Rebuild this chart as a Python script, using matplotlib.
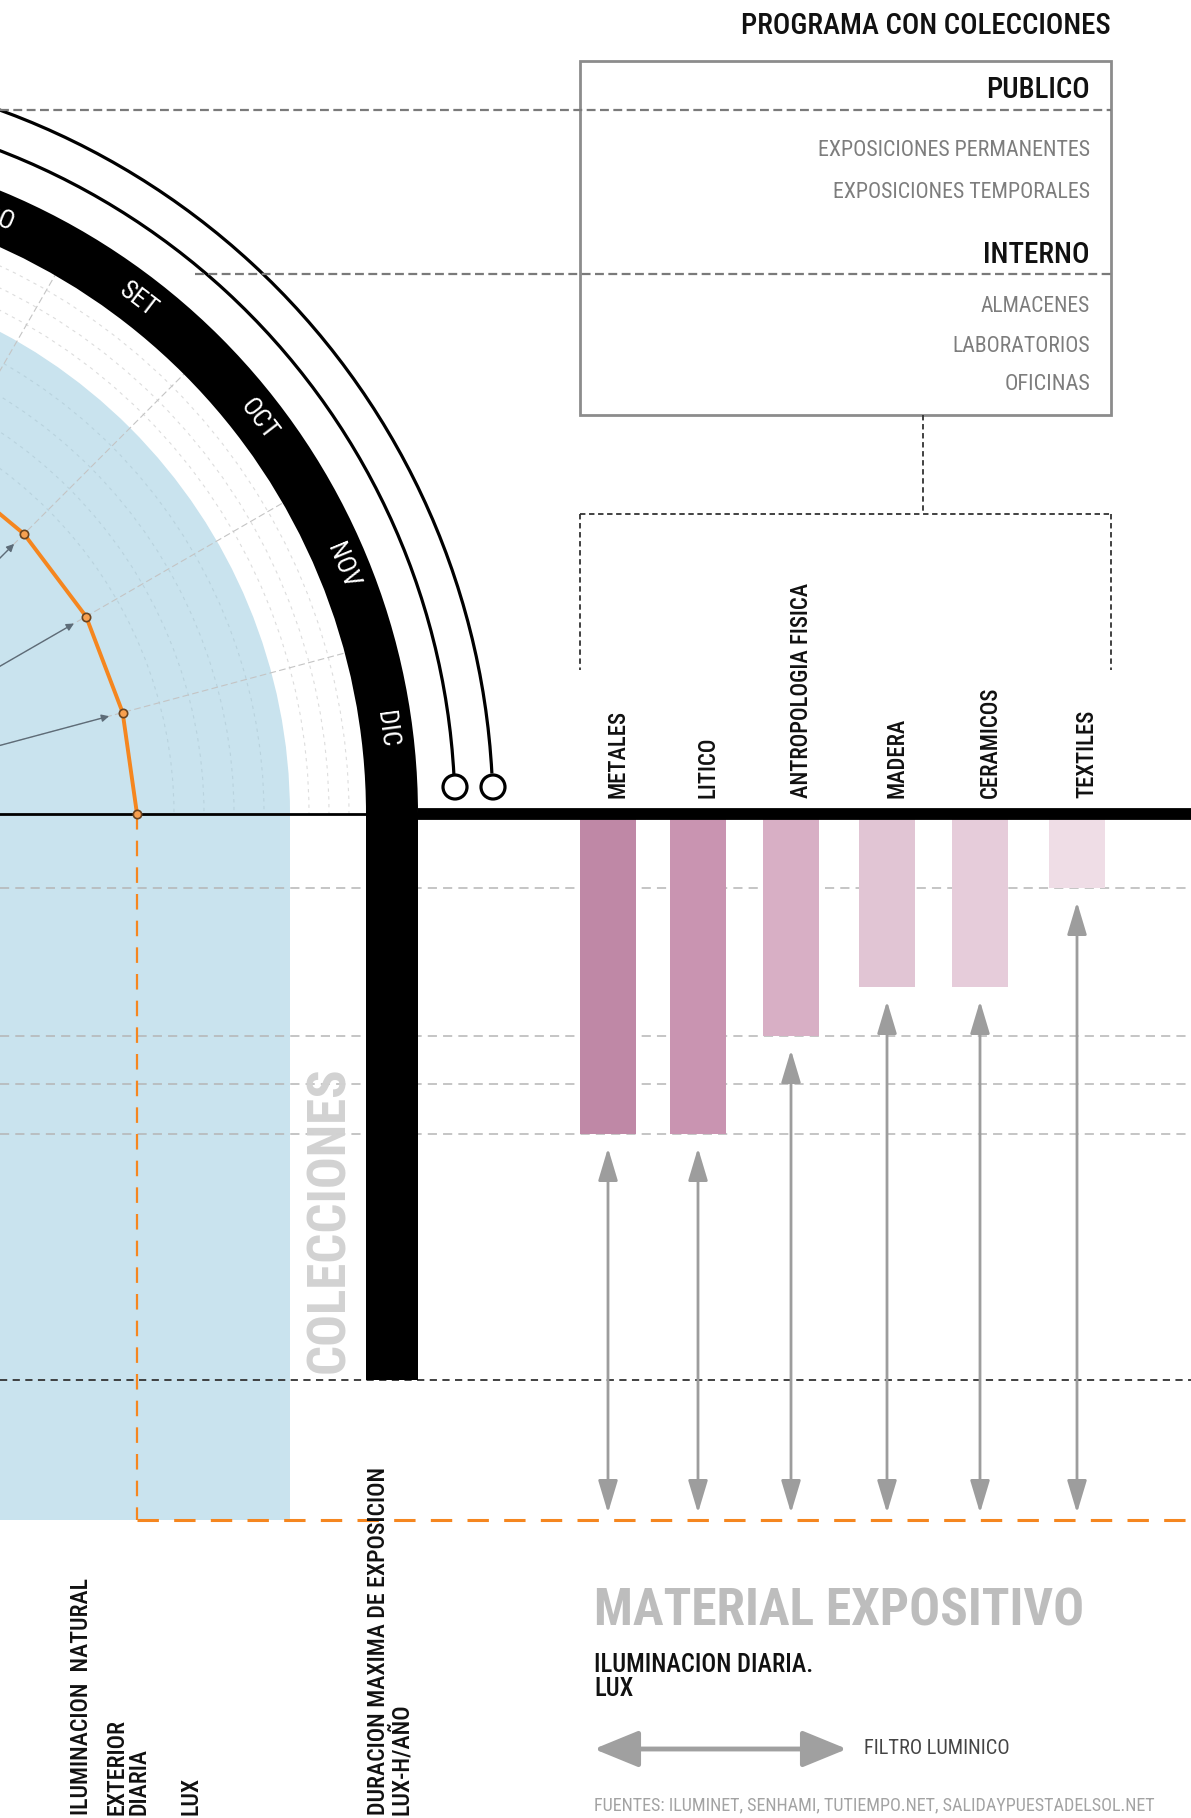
import numpy as np
import matplotlib
matplotlib.use('Agg')
import matplotlib.pyplot as plt
from matplotlib import font_manager
from matplotlib.patches import Rectangle, Circle, Wedge, Arc

# fuente condensada (tipo DIN) si esta instalada
nombres = {f.name for f in font_manager.fontManager.ttflist}
FUENTE = 'DejaVu Sans'
for cand in ['Roboto Condensed', 'Liberation Sans Narrow']:
    if cand in nombres:
        FUENTE = cand
        break
plt.rcParams['font.family'] = [FUENTE, 'DejaVu Sans']
if FUENTE == 'DejaVu Sans':
    plt.rcParams['font.stretch'] = 'condensed'

# ---------------- datos ----------------
meses = ['ENE', 'FEB', 'MAR', 'ABR', 'MAY', 'JUN', 'JUL', 'AGO', 'SET', 'OCT', 'NOV', 'DIC']

# iluminacion natural exterior diaria (radio en unidades del grafico), solo la parte visible
ilum_angulos = [0, 15, 30, 45, 60]
ilum_exterior = [393, 392, 395, 396, 400]

materiales = ['METALES', 'LITICO', 'ANTROPOLOGIA FISICA', 'MADERA', 'CERAMICOS', 'TEXTILES']
ilum_material = [320, 320, 222, 173, 173, 74]        # bajo la linea base
colores_mat = ['#bf88a6', '#c994b1', '#d8afc5', '#e1c5d4', '#e6ccda', '#efdde6']
niveles = [74, 222, 270, 320]
duracion_max = 566
nivel_exterior = 706

publico = ['EXPOSICIONES PERMANENTES', 'EXPOSICIONES TEMPORALES']
interno = ['ALMACENES', 'LABORATORIOS', 'OFICINAS']

# ---------------- geometria ----------------
W, H = 1191, 1818
CX, CY = -256, 814          # centro del semicirculo (fuera del lienzo)
R_AZUL = 546
R_BANDA_IN, R_BANDA_OUT = 622, 674
R_TEXTO = 648
R_ARCOS = [711, 749]
x_barras = [608, 698, 791, 887, 980, 1077]
ANCHO = 56

fig = plt.figure(figsize=(W / 100, H / 100), dpi=100)
ax = fig.add_axes([0, 0, 1, 1])
ax.set_xlim(0, W)
ax.set_ylim(H, 0)
ax.axis('off')

def polar(r, ang):
    a = np.radians(ang)
    return CX + r * np.cos(a), CY - r * np.sin(a)

# zona azul (iluminacion exterior)
azul = '#c9e3ee'
ax.add_patch(Wedge((CX, CY), R_AZUL, -180, 0, color=azul, lw=0, zorder=1))
ax.add_patch(Rectangle((0, CY), CX + R_AZUL, nivel_exterior, color=azul, lw=0, zorder=1))

# circulos guia
for r in [430, 460, 490, 520]:
    ax.add_patch(Arc((CX, CY), 2 * r, 2 * r, theta1=-180, theta2=0, color='#b9d3de',
                     lw=0.8, ls=(0, (3, 4)), zorder=2))
for r in [565, 585, 605]:
    ax.add_patch(Arc((CX, CY), 2 * r, 2 * r, theta1=-180, theta2=0, color='#dddddd',
                     lw=0.8, ls=(0, (3, 4)), zorder=2))
# radios
for ang in range(0, 181, 15):
    x1, y1 = polar(R_BANDA_IN, ang)
    ax.plot([CX, x1], [CY, y1], color='#c4c4c4', lw=0.8, ls=(0, (6, 3)), zorder=2)

# lineas de nivel
for v in niveles:
    ax.plot([0, W], [CY + v, CY + v], color='#b5b5b5', lw=1.1, ls=(0, (6, 4)), zorder=2)
ax.plot([0, W], [CY + duracion_max, CY + duracion_max], color='#333333', lw=1.3,
        ls=(0, (4, 3)), zorder=2)

# banda de meses y barra de duracion
ax.add_patch(Wedge((CX, CY), R_BANDA_OUT, -180, 0, width=R_BANDA_OUT - R_BANDA_IN,
                   color='black', lw=0, zorder=4))
ax.add_patch(Rectangle((CX + R_BANDA_IN, CY), R_BANDA_OUT - R_BANDA_IN, duracion_max,
                       color='black', lw=0, zorder=4))
for i, m in enumerate(meses):
    ang = 180 - 7.5 - 15 * i
    x, y = polar(R_TEXTO, ang)
    if x < -60:          # fuera del recorte
        continue
    ax.text(x, y, m, color='white', fontsize=19, rotation=ang - 90, rotation_mode='anchor',
            ha='center', va='center', zorder=8)

# arcos finos con remate circular
for r in R_ARCOS:
    ax.add_patch(Arc((CX, CY), 2 * r, 2 * r, theta1=-180, theta2=-3.1, color='black',
                     lw=2.3, zorder=4))
    ax.add_patch(Circle((CX + r, CY - 27), 12, fc='white', ec='black', lw=2.3, zorder=5))

# linea base
ax.plot([0, CX + R_BANDA_IN], [CY, CY], color='black', lw=2, zorder=5)
ax.plot([CX + R_BANDA_OUT, W], [CY, CY], color='black', lw=8.5, zorder=5, solid_capstyle='butt')

# lineas naranjas
naranja = '#f5861f'
x0 = CX + ilum_exterior[0]
ax.plot([x0, x0], [CY, CY + nivel_exterior], color=naranja, lw=1.6, ls=(0, (7, 5)), zorder=3)
ax.plot([x0, W], [CY + nivel_exterior, CY + nivel_exterior], color=naranja, lw=2.2,
        ls=(0, (7, 5)), zorder=3)

xs, ys = polar(np.array(ilum_exterior), np.array(ilum_angulos))
for r, ang in zip(ilum_exterior[1:], ilum_angulos[1:]):
    ax.annotate('', xy=polar(r - 14, ang), xytext=(CX, CY),
                arrowprops=dict(arrowstyle='-|>', color='#5d6c78', lw=1,
                                mutation_scale=11, shrinkA=0, shrinkB=0), zorder=5)
ax.plot(xs, ys, color=naranja, lw=2.8, zorder=6)
ax.plot(xs, ys, 'o', ms=6, mfc='#f7a050', mec='#6b4420', mew=1.2, zorder=7)

# barras de materiales
ax.bar(x_barras, ilum_material, width=ANCHO, bottom=CY, color=colores_mat, lw=0, zorder=3)
for x, v in zip(x_barras, ilum_material):
    ax.annotate('', xy=(x, CY + nivel_exterior - 7), xytext=(x, CY + v + 14),
                arrowprops=dict(arrowstyle='<|-|>,head_length=1.0,head_width=0.3',
                                color='#9d9d9d', lw=2, mutation_scale=20,
                                shrinkA=0, shrinkB=0), zorder=4)

etq_mat = []
for x, m in zip(x_barras, materiales):
    etq_mat.append(ax.text(x + 10, 798, m, rotation=90, ha='center', va='bottom',
                           color='#111111', fontsize=14, fontweight='medium', zorder=8))

# cuadro de programa
ax.add_patch(Rectangle((580, 61), 531, 354, fill=False, ec='#8c8c8c', lw=2, zorder=5))
ax.plot([0, 1111], [110, 110], color='#7a7a7a', lw=1.6, ls=(0, (4, 2)), zorder=5)
ax.plot([195, 1111], [274, 274], color='#7a7a7a', lw=1.6, ls=(0, (4, 2)), zorder=5)
for xa, ya, xb, yb in [(923, 415, 923, 514), (580, 514, 1111, 514),
                       (580, 514, 580, 670), (1111, 514, 1111, 670)]:
    ax.plot([xa, xb], [ya, yb], color='#333333', lw=1.3, ls=(0, (3, 2)), zorder=5)

ajustes = []
t = ax.text(1111, 26, 'PROGRAMA CON COLECCIONES', ha='right', va='center', color='#111111',
            fontsize=24, fontweight='medium')
ajustes.append((t, 371, False))
t = ax.text(1090, 90, 'PUBLICO', ha='right', va='center', color='#111111', fontsize=24,
            fontweight='medium')
ajustes.append((t, 104, False))
t = ax.text(1090, 255, 'INTERNO', ha='right', va='center', color='#111111', fontsize=24,
            fontweight='medium')
ajustes.append((t, 107, False))
for y, s, w in zip([150, 193], publico, [275, 259]):
    t = ax.text(1090, y, s, ha='right', va='center', color='#7d7d7d', fontsize=16)
    ajustes.append((t, w, False))
for y, s, w in zip([306, 346, 384], interno, [110, 138, 86]):
    t = ax.text(1090, y, s, ha='right', va='center', color='#7d7d7d', fontsize=16)
    ajustes.append((t, w, False))

t_col = ax.text(330, 1220, 'COLECCIONES', rotation=90, ha='center', va='center',
                color='#d2d2d2', fontsize=40, fontweight='bold', zorder=6)
ajustes.append((t_col, 307, True))

t = ax.text(594, 1612, 'MATERIAL EXPOSITIVO', ha='left', va='center', color='#bdbdbd',
            fontsize=36, fontweight='bold')
ajustes.append((t, 490, False))
t_dia = ax.text(594, 1677, 'ILUMINACION DIARIA.\nLUX', ha='left', va='center', color='#111111',
                fontsize=18, linespacing=1.0, fontweight='medium', multialignment='left')
ajustes.append((t_dia, 218, False))
ax.annotate('', xy=(847, 1749), xytext=(594, 1749),
            arrowprops=dict(arrowstyle='<|-|>,head_length=1.1,head_width=0.45',
                            color='#a0a0a0', lw=3.5, mutation_scale=25, shrinkA=0, shrinkB=0))
t = ax.text(864, 1749, 'FILTRO LUMINICO', ha='left', va='center', color='#444444', fontsize=16)
ajustes.append((t, 146, False))
t = ax.text(594, 1805, 'FUENTES: ILUMINET, SENHAMI, TUTIEMPO.NET, SALIDAYPUESTADELSOL.NET',
            ha='left', va='center', color='#a3a3a3', fontsize=14)
ajustes.append((t, 566, False))

t_nat = ax.text(81, 1815, 'ILUMINACION  NATURAL', rotation=90, ha='center', va='bottom',
                color='#111111', fontsize=16, fontweight='medium')
ajustes.append((t_nat, 238, True))
t_izq = [ax.text(128, 1815, 'EXTERIOR\nDIARIA', rotation=90, ha='center', va='bottom',
                 color='#111111', fontsize=16, linespacing=0.95, fontweight='medium',
                 multialignment='left'),
         ax.text(191, 1815, 'LUX', rotation=90, ha='center', va='bottom',
                 color='#111111', fontsize=16, fontweight='medium')]
t_dur = ax.text(390, 1815, 'DURACION MAXIMA DE EXPOSICION\nLUX-H/AÑO', rotation=90,
                ha='center', va='bottom', color='#111111', fontsize=16, linespacing=0.95,
                fontweight='medium', multialignment='left')
ajustes.append((t_dur, 351, True))

# ajustar tamaños de letra al largo medido en la referencia
fig.canvas.draw()
rend = fig.canvas.get_renderer()
for t, largo, vert in ajustes:
    bb = t.get_window_extent(rend)
    actual = bb.height if vert else bb.width
    t.set_fontsize(t.get_fontsize() * largo / actual)
bb = etq_mat[2].get_window_extent(rend)
fs_mat = etq_mat[2].get_fontsize() * 215 / bb.height
for t in etq_mat:
    t.set_fontsize(fs_mat)
for t in t_izq:
    t.set_fontsize(t_nat.get_fontsize())

fig.savefig('out.png', dpi=100)
